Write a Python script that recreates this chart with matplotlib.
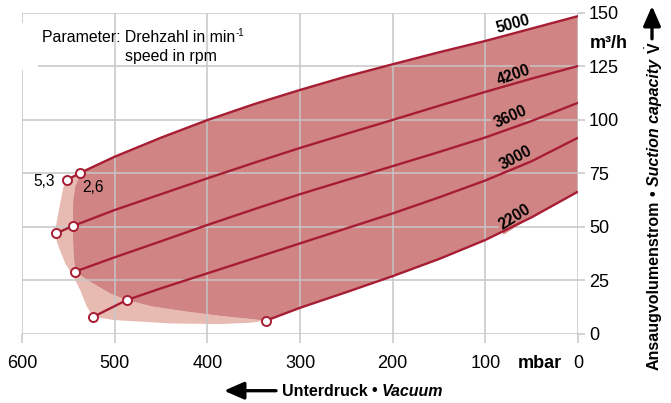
import matplotlib
matplotlib.use('Agg')
import matplotlib.pyplot as plt
from matplotlib.patches import Rectangle

plt.rcParams['font.family'] = ['Liberation Sans', 'DejaVu Sans']
plt.rcParams['mathtext.fontset'] = 'custom'
plt.rcParams['mathtext.rm'] = 'Liberation Sans'
plt.rcParams['mathtext.it'] = 'Liberation Sans:italic'
plt.rcParams['mathtext.bf'] = 'Liberation Sans:bold'

# achsen
druck_ticks = [600, 500, 400, 300, 200, 100, 0]
volumen_ticks = [0, 25, 50, 75, 100, 125, 150]

# kennlinien (mbar, m3/h)
p_5000 = [551.6, 537, 500, 450, 400, 350, 300, 250, 200, 150, 100, 50, 0]
v_5000 = [71.8, 75.2, 82.7, 91.6, 99.8, 107.2, 113.9, 120.2, 125.9, 131.5, 136.8, 142.6, 148.4]
p_4200 = [563.1, 545.3, 500, 450, 400, 350, 300, 250, 200, 150, 100, 50, 0]
v_4200 = [46.9, 50.3, 57.8, 65.2, 72.6, 79.8, 86.8, 93.4, 99.9, 106.5, 113.0, 119.2, 125.1]
p_3600 = [542.8, 500, 450, 400, 350, 300, 250, 200, 150, 100, 50, 0]
v_3600 = [29.0, 35.7, 43.2, 50.8, 58.1, 65.2, 71.8, 78.3, 84.9, 91.7, 99.4, 107.9]
p_3000 = [523.0, 487.1, 450, 400, 350, 300, 250, 200, 150, 100, 50, 0]
v_3000 = [7.9, 15.7, 21.2, 28.2, 35.2, 42.2, 49.2, 56.2, 63.7, 71.6, 80.6, 91.6]
p_2200 = [336.7, 300, 250, 200, 150, 100, 50, 0]
v_2200 = [6.1, 12.1, 19.4, 26.9, 34.9, 43.8, 54.4, 66.4]

# rand des hellen bereichs (aussen)
p_hell = [551.6, 555.2, 558.8, 563.5, 564.5, 560.6, 553.4, 544.4, 537.2, 530, 523.0,
          501.4, 440.3, 386.3, 353.8, 336.7]
v_hell = [71.8, 68.7, 60.9, 50.0, 46.0, 40.7, 32.9, 26.6, 20.4, 12.6, 7.9,
          6.4, 4.8, 4.5, 5.1, 6.1]
# rand des dunklen bereichs (links/unten)
p_dunkel = [537, 542.6, 544.8, 545.3, 544.6, 542.8, 526.6, 505, 487.1, 458.3, 422.3,
            386.3, 336.7]
v_dunkel = [75.2, 68.7, 62.5, 50.3, 39.1, 29.0, 24.3, 18.8, 15.7, 12.6, 10.3,
            8.3, 6.1]

drehzahlen = ['5000', '4200', '3600', '3000', '2200']
kurven = [(p_5000, v_5000, [0, 1]), (p_4200, v_4200, [0, 1]), (p_3600, v_3600, [0]),
          (p_3000, v_3000, [0, 1]), (p_2200, v_2200, [0])]

line_c = '#a71d34'
dunkel_c = '#d08584'
hell_c = '#e8bbb2'
grid_c = '#c6c6c6'

W, H = 671, 403
fig = plt.figure(figsize=(W / 100, H / 100), dpi=100)
ax = fig.add_axes([22 / W, 1 - 333.7 / H, 556 / W, 321 / H])
ax.set_xlim(600, 0)
ax.set_ylim(0, 150)
ax.set_xticks(druck_ticks)
ax.set_yticks(volumen_ticks)
ax.yaxis.tick_right()
for s in ax.spines.values():
    s.set_visible(False)
ax.set_axisbelow(False)
ax.grid(True, color=grid_c, lw=1.1)
ax.tick_params(axis='x', length=6.5, width=1.1, color=grid_c, pad=8.5, labelsize=13)
ax.tick_params(axis='y', length=5, width=1.1, color=grid_c, pad=3, labelsize=13)

# flaechen
ax.fill(p_hell + p_dunkel[::-1], v_hell + v_dunkel[::-1], color=hell_c, lw=0, zorder=1)
ax.fill(p_dunkel + p_2200[1:] + p_5000[1:][::-1],
        v_dunkel + v_2200[1:] + v_5000[1:][::-1], color=dunkel_c, lw=0, zorder=1.1)

# kennlinien
for p, v, mk in kurven:
    ax.plot(p, v, color=line_c, lw=1.7, zorder=3, solid_capstyle='butt', solid_joinstyle='round')
    ax.plot([p[i] for i in mk], [v[i] for i in mk], 'o', ms=6.5, mfc='white',
            mec=line_c, mew=1.4, zorder=4)

# beschriftung der kennlinien
lab_pos = [(70.1, 144.7, 15), (69.8, 120.7, 19), (73, 101.3, 24), (67.6, 82.1, 28), (68.3, 54.5, 32)]
for txt, (x, y, rot) in zip(drehzahlen, lab_pos):
    bb = None if txt == '5000' else dict(facecolor=dunkel_c, edgecolor='none', pad=1)
    ax.text(x, y, txt, rotation=rot, rotation_mode='anchor', ha='center', va='center',
            fontsize=11.2, fontweight='bold', bbox=bb, zorder=2.8)

ax.text(565, 71.2, '5,3', ha='right', va='center', fontsize=11.2, zorder=5)
ax.text(534.7, 68.5, '2,6', ha='left', va='center', fontsize=11.2, zorder=5)

# parameter-kasten
ax.add_patch(Rectangle((582.5, 123.2), 582.5 - 334.4, 145.2 - 123.2, facecolor='white',
                       edgecolor='none', zorder=2.6))
t_par = fig.text(41.7 / W, 1 - 42.5 / H, 'Parameter: Drehzahl in min', fontsize=11.4,
                 ha='left', va='baseline')
fig.text(125 / W, 1 - 61 / H, 'speed in rpm', fontsize=11.4, ha='left', va='baseline')

# einheiten
fig.text(590 / W, 1 - 43.3 / H, 'm³/h', fontsize=13, fontweight='bold', ha='left', va='center')
fig.text(539.5 / W, 1 - 367.5 / H, 'mbar', fontsize=13, fontweight='bold', ha='center',
         va='baseline')

fig.canvas.draw()
r = fig.canvas.get_renderer()

# hochgestellt -1
xs = t_par.get_window_extent(r).x1 + 0.5
fig.text(xs / W, 1 - 36.5 / H, '-1', fontsize=7, ha='left', va='baseline')

# x-achsentitel mit pfeil
ax.annotate('', xy=(224, H - 390.7), xytext=(276, H - 390.7), xycoords='figure pixels',
            textcoords='figure pixels',
            arrowprops=dict(arrowstyle='-|>,head_length=0.8,head_width=0.35', color='black',
                            lw=2.4, mutation_scale=15, shrinkA=0, shrinkB=0))
x0 = 281.7
for s, st, gap in [('Unterdruck', 'normal', 4.5), ('•', 'normal', 4.5), ('Vacuum', 'italic', 0)]:
    t = fig.text(x0 / W, 1 - 395.5 / H, s, fontsize=11.5, fontweight='bold', fontstyle=st,
                 ha='left', va='baseline')
    x0 = t.get_window_extent(r).x1 + gap

# y-achsentitel mit pfeil
y0 = H - 370
for s, st, gap in [('Ansaugvolumenstrom', 'normal', 4.5), ('•', 'normal', 4.5),
                   ('Suction capacity', 'italic', 4.5), (r'$\dot{\mathbf{V}}$', 'normal', 3)]:
    t = fig.text(654 / W, y0 / H, s, fontsize=11.5, fontweight='bold', fontstyle=st,
                 rotation=90, ha='center', va='bottom')
    y0 = t.get_window_extent(r).y1 + gap
ax.annotate('', xy=(652, H - 6), xytext=(652, y0), xycoords='figure pixels',
            textcoords='figure pixels',
            arrowprops=dict(arrowstyle='-|>,head_length=0.8,head_width=0.35', color='black',
                            lw=2.4, mutation_scale=15, shrinkA=0, shrinkB=0))

fig.savefig('out.png', dpi=100)
